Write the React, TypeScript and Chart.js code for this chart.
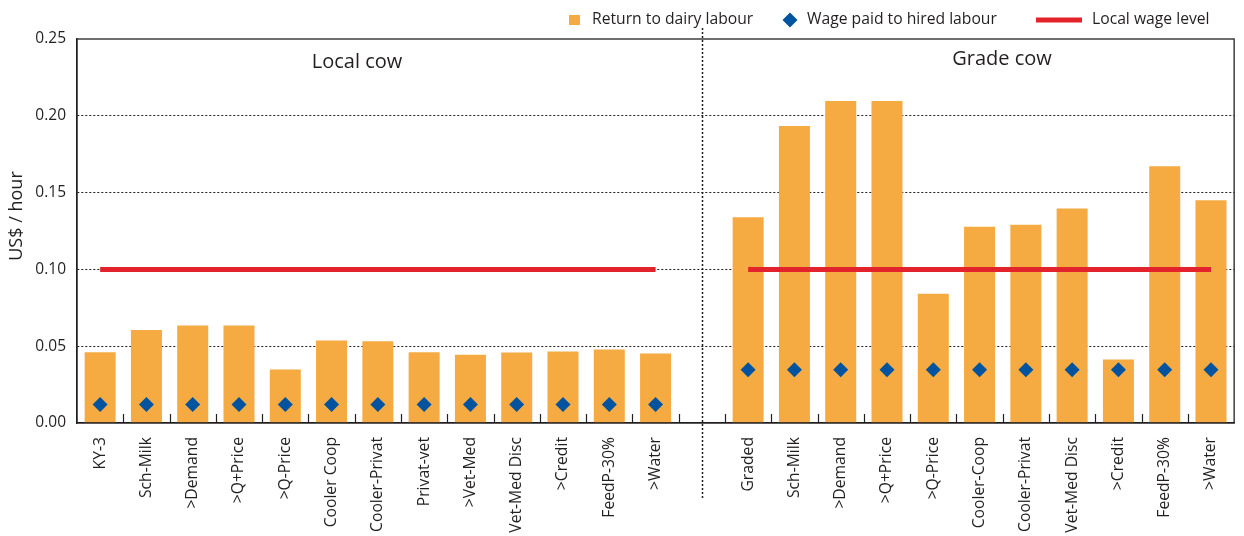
import React, { useEffect, useRef } from "react";
import { Chart, registerables } from "chart.js";
Chart.register(...registerables);

const localLabels = ["KY-3", "Sch-Milk", ">Demand", ">Q+Price", ">Q-Price", "Cooler Coop", "Cooler-Privat", "Privat-vet", ">Vet-Med", "Vet-Med Disc", ">Credit", "FeedP-30%", ">Water"];
const gradeLabels = ["Graded", "Sch-Milk", ">Demand", ">Q+Price", ">Q-Price", "Cooler-Coop", "Cooler-Privat", "Vet-Med Disc", ">Credit", "FeedP-30%", ">Water"];

const localReturn = [0.046, 0.0606, 0.0634, 0.0634, 0.0348, 0.0537, 0.0532, 0.0461, 0.0444, 0.0459, 0.0465, 0.0478, 0.0452];
const gradeReturn = [0.134, 0.1933, 0.2096, 0.2096, 0.0841, 0.1278, 0.1291, 0.1396, 0.0413, 0.1672, 0.145];

const localWagePaid = [0.012, 0.012, 0.012, 0.012, 0.012, 0.012, 0.012, 0.012, 0.012, 0.012, 0.012, 0.012, 0.012];
const gradeWagePaid = [0.0346, 0.0346, 0.0346, 0.0346, 0.0346, 0.0346, 0.0346, 0.0346, 0.0346, 0.0346, 0.0346];

const localWageLevel = [0.1, 0.1, 0.1, 0.1, 0.1, 0.1, 0.1, 0.1, 0.1, 0.1, 0.1, 0.1, 0.1];
const gradeWageLevel = [0.1, 0.1, 0.1, 0.1, 0.1, 0.1, 0.1, 0.1, 0.1, 0.1, 0.1];

const groupTitles = ["Local cow", "Grade cow"];
const legendLabels = ["Return to dairy labour", "Wage paid to hired labour", "Local wage level"];
const yTitle = "US$ / hour";
const yMin = 0;
const yMax = 0.25;
const yStep = 0.05;

const FONT = "'Open Sans', 'Noto Sans', sans-serif";
const TEXT = "#231f20";
const ORANGE = "#f6aa42";
const BLUE = "#00549f";
const RED = "#e2232b";

const labels = [...localLabels, "", ...gradeLabels];
const returnData = [...localReturn, null, ...gradeReturn];
const wagePaidData = [...localWagePaid, null, ...gradeWagePaid];
const wageLevelData = [...localWageLevel, null, ...gradeWageLevel];

const decor = {
  id: "decor",
  afterDraw(chart: any) {
    const { ctx, chartArea: a, scales } = chart;
    const x = scales.x;
    ctx.save();
    // frame
    ctx.strokeStyle = TEXT;
    ctx.lineWidth = 1.3;
    ctx.setLineDash([]);
    ctx.strokeRect(a.left, a.top, a.right - a.left, a.bottom - a.top);
    // inward tick marks at category boundaries
    ctx.lineWidth = 1.2;
    for (let i = 1; i < labels.length; i++) {
      const px = Math.round((x.getPixelForValue(i - 1) + x.getPixelForValue(i)) / 2) + 0.5;
      ctx.beginPath();
      ctx.moveTo(px, a.bottom);
      ctx.lineTo(px, a.bottom - 9);
      ctx.stroke();
    }
    // separator
    const sx = Math.round(x.getPixelForValue(localLabels.length)) + 0.5;
    ctx.setLineDash([2, 2]);
    ctx.lineWidth = 1.5;
    ctx.beginPath();
    ctx.moveTo(sx, 28);
    ctx.lineTo(sx, 500);
    ctx.stroke();
    ctx.setLineDash([]);
    // group titles
    ctx.fillStyle = TEXT;
    ctx.font = `20px ${FONT}`;
    ctx.textAlign = "center";
    ctx.textBaseline = "middle";
    ctx.fillText(groupTitles[0], 357, 62);
    ctx.fillText(groupTitles[1], 1002, 59);
    // y title
    ctx.save();
    ctx.translate(17, 216);
    ctx.rotate(-Math.PI / 2);
    ctx.font = `18px ${FONT}`;
    ctx.fillText(yTitle, 0, 0);
    ctx.restore();
    // legend
    const ly = 20;
    ctx.font = `15.7px ${FONT}`;
    ctx.textAlign = "left";
    ctx.fillStyle = ORANGE;
    ctx.fillRect(569, ly - 5, 11, 10);
    ctx.fillStyle = TEXT;
    ctx.fillText(legendLabels[0], 592, ly);
    ctx.fillStyle = BLUE;
    ctx.beginPath();
    ctx.moveTo(790, ly - 7.5);
    ctx.lineTo(797.5, ly);
    ctx.lineTo(790, ly + 7.5);
    ctx.lineTo(782.5, ly);
    ctx.closePath();
    ctx.fill();
    ctx.fillStyle = TEXT;
    ctx.fillText(legendLabels[1], 807, ly);
    ctx.fillStyle = RED;
    ctx.fillRect(1036, ly - 2.5, 46, 5);
    ctx.fillStyle = TEXT;
    ctx.fillText(legendLabels[2], 1092, ly);
    ctx.restore();
  },
};

export default function App() {
  const ref = useRef<HTMLCanvasElement>(null);
  useEffect(() => {
    if (!ref.current) return;
    const chart = new Chart(ref.current, {
      type: "bar",
      data: {
        labels,
        datasets: [
          {
            type: "line",
            label: legendLabels[1],
            data: wagePaidData as any,
            showLine: false,
            pointStyle: "rectRot",
            pointRadius: 7.5,
            pointBackgroundColor: BLUE,
            pointBorderWidth: 0,
            borderColor: BLUE,
            order: 1,
          } as any,
          {
            type: "line",
            label: legendLabels[2],
            data: wageLevelData as any,
            borderColor: RED,
            borderWidth: 5,
            borderCapStyle: "butt",
            pointRadius: 0,
            spanGaps: false,
            tension: 0,
            order: 2,
          } as any,
          {
            type: "bar",
            label: legendLabels[0],
            data: returnData as any,
            backgroundColor: ORANGE,
            borderWidth: 0,
            categoryPercentage: 1,
            barPercentage: 0.67,
            order: 3,
          } as any,
        ],
      },
      options: {
        animation: false,
        responsive: false,
        maintainAspectRatio: false,
        layout: { padding: { top: 39, right: 8, left: 0, bottom: 0 } },
        plugins: { legend: { display: false }, tooltip: { enabled: false } },
        scales: {
          x: {
            offset: true,
            grid: { display: false, drawTicks: false },
            border: { display: true, color: TEXT, width: 1.3 },
            ticks: {
              autoSkip: false,
              minRotation: 90,
              maxRotation: 90,
              padding: 14,
              color: TEXT,
              font: { family: FONT, size: 15.7 },
            },
            afterFit: (s: any) => {
              s.height = 113;
            },
          },
          y: {
            min: yMin,
            max: yMax,
            grid: {
              drawTicks: false,
              color: (c: any) => (c.tick && (c.tick.value <= yMin + 1e-9 || c.tick.value >= yMax - 1e-9) ? "rgba(0,0,0,0)" : TEXT),
              lineWidth: 1,
            },
            border: { display: true, color: TEXT, width: 1.3, dash: [2, 2] },
            ticks: {
              stepSize: yStep,
              padding: 11,
              color: TEXT,
              font: { family: FONT, size: 15.5 },
              callback: (v: any) => Number(v).toFixed(2),
            },
            afterFit: (s: any) => {
              s.width = 77;
            },
          },
        },
      },
      plugins: [decor],
    });
    return () => chart.destroy();
  }, []);
  return (
    <div style={{ position: "fixed", left: 0, top: 0, width: 1244, height: 536, background: "#fff" }}>
      <canvas ref={ref} width={1244} height={536} style={{ width: 1244, height: 536, display: "block" }} />
    </div>
  );
}
